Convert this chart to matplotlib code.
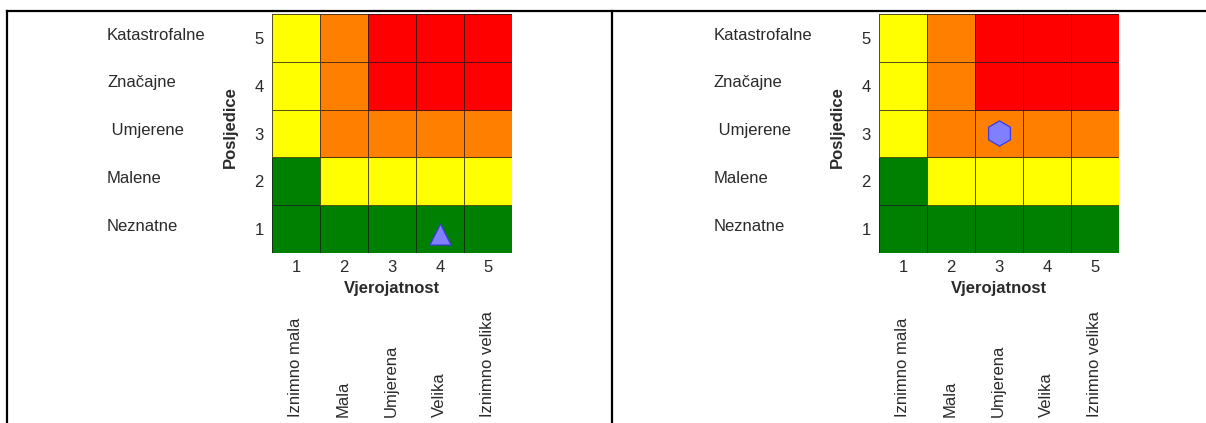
import matplotlib
matplotlib.use("Agg")
import matplotlib.pyplot as plt
import matplotlib.transforms as mtrans
from matplotlib.colors import ListedColormap
from matplotlib.lines import Line2D
import numpy as np

plt.rcParams['font.family'] = ['Liberation Sans', 'DejaVu Sans']

# ---- data ----
likelihood_ticks = [1, 2, 3, 4, 5]
consequence_ticks = [1, 2, 3, 4, 5]
consequence_labels = ["Neznatne", "Malene", " Umjerene", "Značajne", "Katastrofalne"]
likelihood_labels = ["Iznimno mala", "Mala", "Umjerena", "Velika", "Iznimno velika"]
# risk level per cell: rows = consequence 1..5 (bottom to top), cols = likelihood 1..5
# 0 = green, 1 = yellow, 2 = orange, 3 = red
risk_levels = [
    [0, 0, 0, 0, 0],
    [0, 1, 1, 1, 1],
    [1, 2, 2, 2, 2],
    [1, 2, 3, 3, 3],
    [1, 2, 3, 3, 3],
]
level_colors = ["#008000", "#FFFF00", "#FF8000", "#FF0000"]
marker_left = {"likelihood": 4, "consequence": 1, "shape": "^"}
marker_right = {"likelihood": 3, "consequence": 3, "shape": "h"}

W, H = 1206, 423
fig = plt.figure(figsize=(W / 100, H / 100), dpi=100)

def fx(px):
    return px / W

def fy(py):
    return 1 - py / H

# table border lines
lw_border = 1.6
for xs, ys in [([7, 1206], [11, 11]), ([7, 7], [11, 423]), ([612, 612], [11, 423])]:
    fig.add_artist(Line2D([fx(v) for v in xs], [fy(v) for v in ys], color="black",
                          lw=lw_border, transform=fig.transFigure))

cmap = ListedColormap(level_colors)
txt_color = "#2a2a2a"
fs = 12

def panel(x0, ylab_px, marker):
    gx0, gx1 = x0, x0 + 240
    gy0, gy1 = 14, 253
    ax = fig.add_axes([fx(gx0), fy(gy1), fx(gx1) - fx(gx0), fy(gy0) - fy(gy1)])
    xe = np.arange(0.5, 6.0, 1.0)
    ye = np.arange(0.5, 6.0, 1.0)
    ax.pcolormesh(xe, ye, np.array(risk_levels), cmap=cmap, vmin=-0.5, vmax=3.5,
                  edgecolors=(0.1, 0.1, 0.1, 0.75), linewidth=0.6)
    ax.set_xlim(0.5, 5.5)
    ax.set_ylim(0.5, 5.5)
    ax.set_xticks(likelihood_ticks)
    ax.set_yticks(consequence_ticks)
    ax.set_xticklabels([str(v) for v in likelihood_ticks])
    ax.set_yticklabels([str(v) for v in consequence_ticks])
    ax.tick_params(length=0, labelsize=fs, labelcolor=txt_color, pad=6)
    ax.tick_params(axis="x", pad=5)
    for s in ax.spines.values():
        s.set_visible(False)
    # marker
    is_tri = marker["shape"] == "^"
    ax.scatter([marker["likelihood"]], [marker["consequence"] - (0.1 if is_tri else 0.0)],
               marker=marker["shape"], s=230 if is_tri else 330,
               color="#8080FF", edgecolors="#3b3bdd", linewidths=0.9, zorder=5)
    # axis titles
    ax.text((ylab_px - x0) / 240, 0.525, "Posljedice", transform=ax.transAxes,
            rotation=90, ha="center", va="center", fontsize=fs, fontweight="bold", color=txt_color)
    ax.text(0.5, fy(289), "Vjerojatnost",
            transform=mtrans.blended_transform_factory(ax.transAxes, fig.transFigure),
            ha="center", va="center", fontsize=fs, fontweight="bold", color=txt_color)
    # consequence category labels
    trans_y = mtrans.blended_transform_factory(fig.transFigure, ax.transData)
    for val, lab in zip(consequence_ticks, consequence_labels):
        ax.text(fx(x0 - 165), val + 0.06, lab, transform=trans_y, ha="left", va="center",
                fontsize=fs, color=txt_color)
    # likelihood category labels (rotated)
    trans_x = mtrans.blended_transform_factory(ax.transData, fig.transFigure)
    for val, lab in zip(likelihood_ticks, likelihood_labels):
        ax.text(val - 0.02, fy(417), lab, transform=trans_x, rotation=90, ha="center", va="bottom",
                fontsize=fs, color=txt_color)
    return ax

ax_l = panel(272, 230, marker_left)
ax_r = panel(879, 837, marker_right)

fig.savefig("out.png", dpi=100)
